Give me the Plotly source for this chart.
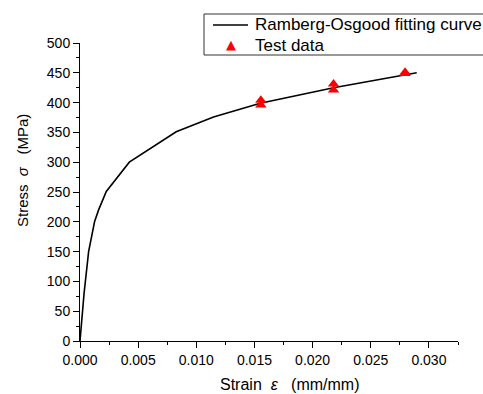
import plotly.graph_objects as go

# Ramberg-Osgood fitting curve
curve_strain = [0.0, 0.00035, 0.00074, 0.00125, 0.0016, 0.00226, 0.00424, 0.00827, 0.01148, 0.0155, 0.0218, 0.02895]
curve_stress = [0, 80, 150, 200, 220, 251, 300, 351, 376, 399, 425, 450]

# Test data
test_strain = [0.01555, 0.01555, 0.0218, 0.0218, 0.02795, 0.02795]
test_stress = [404, 396, 431, 421, 451, 449]

legend_labels = ["Ramberg-Osgood fitting curve", "Test data"]

fig = go.Figure()
fig.add_trace(go.Scatter(x=curve_strain, y=curve_stress, mode="lines",
                         line=dict(color="black", width=1.6),
                         name=legend_labels[0], cliponaxis=False))
fig.add_trace(go.Scatter(x=test_strain, y=test_stress, mode="markers",
                         marker=dict(symbol="triangle-up", color="red", size=10,
                                     line=dict(width=0)),
                         name=legend_labels[1], cliponaxis=False))

L, R, T, B = 80, 25, 43, 53
W, H = 483, 394
pw, ph = W - L - R, H - T - B

def px(x):
    return (x - L) / pw

def py(y):
    return (H - B - y) / ph

font = dict(family="Liberation Sans, Arial", size=14, color="black")
lfont = dict(family="Liberation Sans, Arial", size=17, color="black")
sp = "&nbsp;"

shapes = [
    dict(type="rect", xref="paper", yref="paper", x0=px(204), x1=px(520), y0=py(55), y1=py(14),
         line=dict(color="#333333", width=1), fillcolor="white", layer="above"),
    dict(type="line", xref="paper", yref="paper", x0=px(213), x1=px(248), y0=py(25), y1=py(25),
         line=dict(color="black", width=1.6), layer="above"),
]
annotations = [
    dict(text=legend_labels[0], xref="paper", yref="paper", x=px(253), y=py(25),
         xanchor="left", yanchor="middle", showarrow=False, font=lfont),
    dict(text=legend_labels[1], xref="paper", yref="paper", x=px(253), y=py(45),
         xanchor="left", yanchor="middle", showarrow=False, font=lfont),
    dict(text="▲", xref="paper", yref="paper", x=px(230.5), y=py(44.5),
         xanchor="center", yanchor="middle", showarrow=False,
         font=dict(family="DejaVu Sans", size=13, color="red")),
    dict(text="Strain" + sp * 2 + "<i>ε</i>" + sp * 3 + "(mm/mm)", xref="paper", yref="paper",
         x=px(218), y=py(384), xanchor="left", yanchor="middle",
         showarrow=False, font=dict(family="Liberation Sans, Arial", size=16, color="black")),
    dict(text="Stress" + sp * 2 + "<i>σ</i>" + sp * 3 + "(MPa)", xref="paper", yref="paper",
         x=px(22), y=py(171), xanchor="center", yanchor="middle",
         textangle=-90, showarrow=False, font=dict(family="Liberation Sans, Arial", size=15, color="black")),
]

fig.update_layout(
    width=W, height=H,
    margin=dict(l=L, r=R, t=T, b=B),
    paper_bgcolor="white", plot_bgcolor="white",
    font=font,
    showlegend=False,
    shapes=shapes,
    annotations=annotations,
    xaxis=dict(range=[0, 0.0325], tickvals=[0, 0.005, 0.01, 0.015, 0.02, 0.025, 0.03],
               ticktext=["0.000", "0.005", "0.010", "0.015", "0.020", "0.025", "0.030"],
               showgrid=False, zeroline=False, showline=True, linecolor="black", linewidth=1,
               ticks="outside", ticklen=6, tickcolor="black", tickwidth=1,
               minor=dict(tickvals=[0.0025, 0.0075, 0.0125, 0.0175, 0.0225, 0.0275, 0.0325],
                          ticks="outside", ticklen=3, tickcolor="black"),
               tickfont=font),
    yaxis=dict(range=[0, 500], tickvals=list(range(0, 501, 50)),
               showgrid=False, zeroline=False, showline=True, linecolor="black", linewidth=1,
               ticks="outside", ticklen=6, tickcolor="black", tickwidth=1,
               minor=dict(tickvals=list(range(25, 500, 50)),
                          ticks="outside", ticklen=3, tickcolor="black"),
               tickfont=font),
)
fig.write_html("out.html")
